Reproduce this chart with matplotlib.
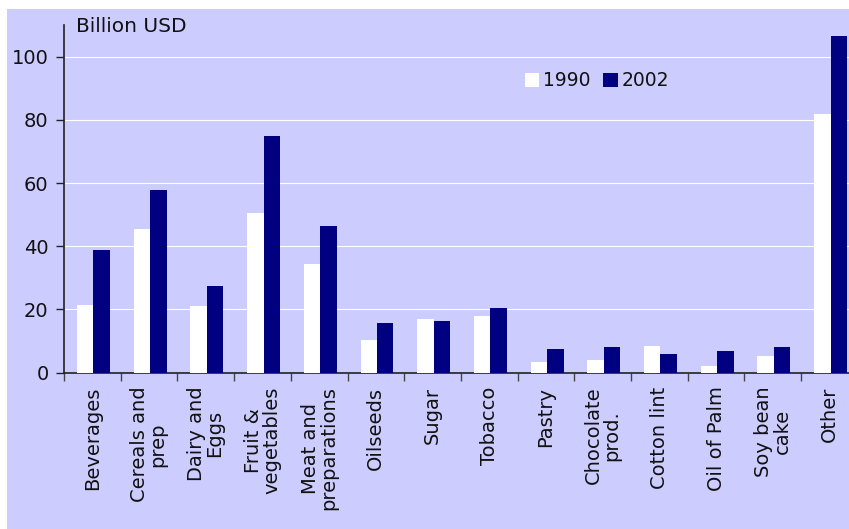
import matplotlib
matplotlib.use("Agg")
import matplotlib.pyplot as plt
from matplotlib.patches import Rectangle
import numpy as np

categories = ["Beverages", "Cereals and\nprep", "Dairy and\nEggs", "Fruit &\nvegetables",
              "Meat and\npreparations", "Oilseeds", "Sugar", "Tobacco", "Pastry",
              "Chocolate\nprod.", "Cotton lint", "Oil of Palm", "Soy bean\ncake", "Other"]
values_1990 = [21.4, 45.6, 21.0, 50.6, 34.3, 10.3, 16.9, 17.9, 3.4, 4.0, 8.4, 2.1, 5.3, 81.9]
values_2002 = [38.7, 57.7, 27.4, 75.0, 46.3, 15.7, 16.3, 20.4, 7.5, 8.1, 5.9, 6.8, 8.1, 106.5]
series_labels = ["1990", "2002"]
y_ticks = [0, 20, 40, 60, 80, 100]
y_label = "Billion USD"

W, H = 849, 529
LAV = "#CCCCFF"
NAVY = "#000080"

plt.rcParams['font.family'] = ['DejaVu Sans']
fig = plt.figure(figsize=(W / 100, H / 100), dpi=100, facecolor="white")
fig.patches.append(Rectangle((7 / W, 0), 1, (H - 9) / H, transform=fig.transFigure,
                             facecolor=LAV, edgecolor="none", zorder=-10))

ax_left = 64 / W
ax_bottom = (H - 372.7) / H
ax_width = (14 * 56.7) / W
ax_height = (372.7 - 25) / H
ax = fig.add_axes([ax_left, ax_bottom, ax_width, ax_height])
ax.set_facecolor(LAV)

x = np.arange(len(categories))
bw = 0.29
off = 0.02
ax.bar(x + off - bw / 2, values_1990, width=bw, color="white", label=series_labels[0], zorder=3)
ax.bar(x + off + bw / 2, values_2002, width=bw, color=NAVY, label=series_labels[1], zorder=3)

ax.set_xlim(-0.5, len(categories) - 0.5)
ax.set_ylim(0, 110)
ax.set_yticks(y_ticks)
ax.yaxis.grid(True, color="white", lw=0.8, zorder=0)
ax.set_axisbelow(True)

for s in ["top", "right"]:
    ax.spines[s].set_visible(False)
for s in ["left", "bottom"]:
    ax.spines[s].set_color("#222222")
    ax.spines[s].set_linewidth(1.2)

ax.tick_params(axis="y", length=6, width=1, color="#222222", pad=5, labelsize=14, labelcolor="#111111")
ax.set_xticks(np.arange(len(categories) + 1) - 0.5)
ax.set_xticklabels([])
ax.tick_params(axis="x", which="major", length=6, width=1, color="#444444", direction="out")
ax.set_xticks(x, minor=True)
ax.set_xticklabels(categories, minor=True, rotation=90, ha="center", va="top",
                   multialignment="center", fontsize=14, color="#111111", linespacing=0.95)
ax.tick_params(axis="x", which="minor", length=0, pad=10)

fig.text(76 / W, 1 - 27 / H, y_label, fontsize=14.5, va="center", ha="left", color="#111111")

leg = fig.legend(loc="center left", bbox_to_anchor=(525 / W, 1 - 81 / H), ncol=2, frameon=False,
                 fontsize=13.5, handlelength=0.75, handleheight=0.75, handletextpad=0.2,
                 columnspacing=0.7, borderpad=0, borderaxespad=0)
for t in leg.get_texts():
    t.set_color("#111111")

fig.savefig("out.png", dpi=100, facecolor="white")
